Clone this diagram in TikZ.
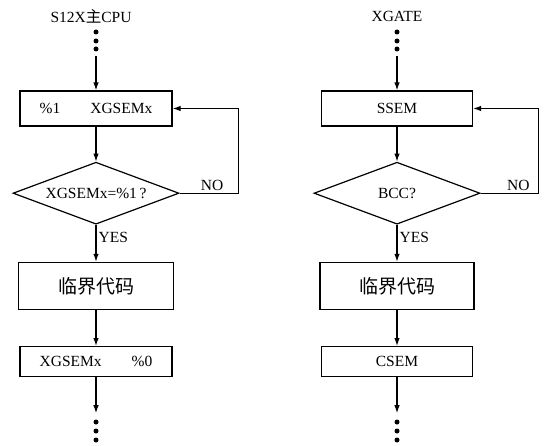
\documentclass[tikz,border=0pt]{standalone}
\usepackage{fontspec}
\setmainfont{Liberation Serif}
\newfontfamily\cjk{Noto Sans CJK SC}
\usetikzlibrary{positioning, shapes.geometric, arrows.meta}
\tikzset{
  box/.style={draw, line width=1.2pt,
              minimum width=152pt, minimum height=35pt,
              align=center, inner sep=2pt},
  bigbox/.style={box, minimum width=155pt, minimum height=47pt,
                 font=\cjk\fontsize{19}{19}\selectfont},
  lowbox/.style={box, minimum height=30pt},
  test/.style={draw, diamond, aspect=2.7, line width=1.2pt,
               minimum width=166pt, minimum height=62pt, inner sep=0pt},
  arrow/.style={-{Latex[length=8pt,width=5.5pt]}, line width=1.2pt},
  tag/.style={inner sep=2pt}
}

\begin{document}
\begin{tikzpicture}[x=1pt, y=-1pt, font=\fontsize{15.5}{18}\selectfont]
    \useasboundingbox (0,0) rectangle (545,446);

    % S12X side
    \node (cpu) at (91,16) {S12X{\cjk 主}CPU};
    \foreach \y in {32,41,49} \fill (96,\y) circle (2.5pt);
    \coordinate (cpuin) at (96,56);
    \node[box] (take) at (96,108.5) {\%1\hspace{30pt}XGSEMx};
    \node[test, below=35pt of take] (chk) {XGSEMx=\%1\,?};
    \node[bigbox, below=37pt of chk] (crit) {临界代码};
    \node[lowbox, below=36pt of crit] (free) {XGSEMx\hspace{30pt}\%0};
    \coordinate[below=36pt of free] (cpuout);
    \foreach \y in {422,431,440} \fill (96,\y) circle (2.5pt);

    \draw[arrow] (cpuin) -- (take);
    \draw[arrow] (take) -- (chk);
    \draw[arrow] (chk) -- node[tag, right, pos=0.35] {YES} (crit);
    \draw[arrow] (crit) -- (free);
    \draw[arrow] (free) -- (cpuout);
    \draw[arrow] (chk.east) -- node[tag, above, pos=0.55] {NO} ++(59pt,0) |- (take.east);

    % XGATE side
    \node (xg) at (397,16) {XGATE};
    \foreach \y in {32,41,49} \fill (397,\y) circle (2.5pt);
    \coordinate (xgin) at (397,56);
    \node[box, minimum width=151pt] (ssem) at (397,108.5) {SSEM};
    \node[test, below=35pt of ssem] (bcc) {BCC?};
    \node[bigbox, minimum width=154pt, below=37pt of bcc] (xcrit) {临界代码};
    \node[lowbox, minimum width=151pt, below=36pt of xcrit] (csem) {CSEM};
    \coordinate[below=36pt of csem] (xgout);
    \foreach \y in {422,431,440} \fill (397,\y) circle (2.5pt);

    \draw[arrow] (xgin) -- (ssem);
    \draw[arrow] (ssem) -- (bcc);
    \draw[arrow] (bcc) -- node[tag, right, pos=0.35] {YES} (xcrit);
    \draw[arrow] (xcrit) -- (csem);
    \draw[arrow] (csem) -- (xgout);
    \draw[arrow] (bcc.east) -- node[tag, above, pos=0.65] {NO} ++(58pt,0) |- (ssem.east);
\end{tikzpicture}
\end{document}
